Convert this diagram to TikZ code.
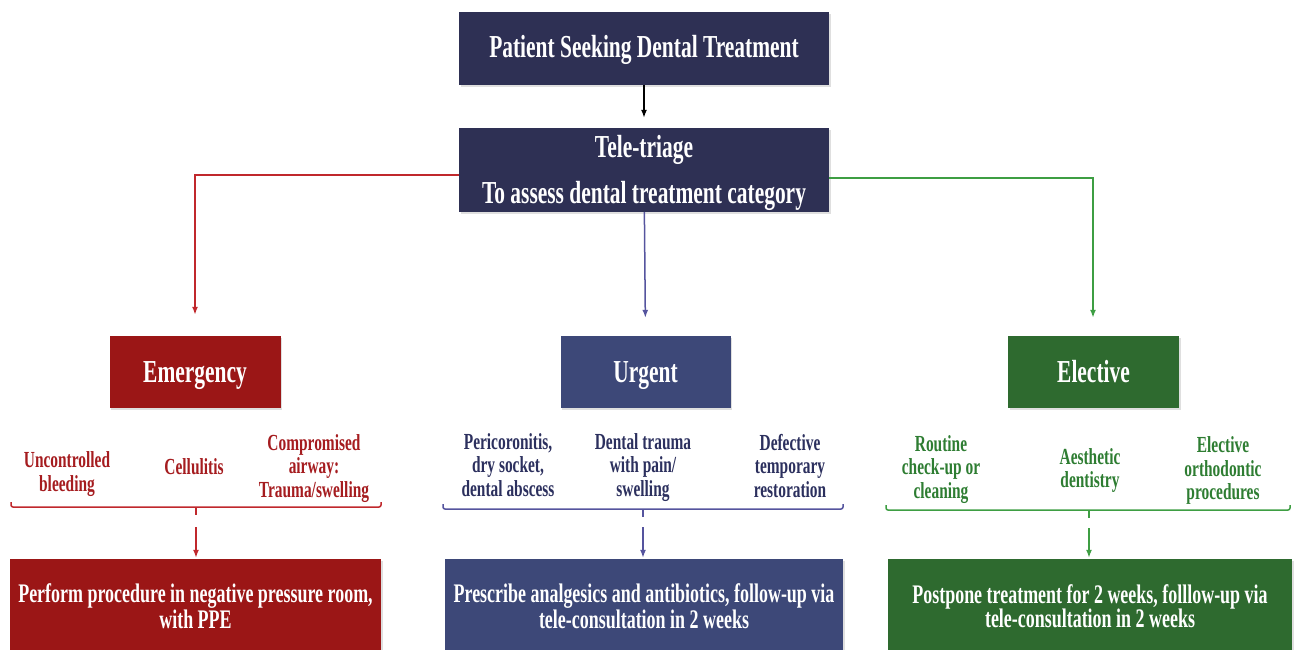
\documentclass[tikz,border=0pt]{standalone}
\usepackage{fontspec}
\setmainfont{Liberation Serif}[FakeStretch=0.67]
\usepackage{tikz}
\usetikzlibrary{arrows.meta,positioning,shadows}
\usepackage{xcolor}
\definecolor{navy}{HTML}{2E3054}
\definecolor{emred}{HTML}{9B1616}
\definecolor{urblue}{HTML}{3D4878}
\definecolor{elgreen}{HTML}{2E6A2F}
\definecolor{redtxt}{HTML}{A51C1F}
\definecolor{bluetxt}{HTML}{2C305E}
\definecolor{greentxt}{HTML}{2E7D32}
\definecolor{redln}{HTML}{C0282C}
\definecolor{blueln}{HTML}{55549E}
\definecolor{greenln}{HTML}{3E9E43}

\begin{document}
\begin{tikzpicture}[x=1pt,y=-1pt,
  box/.style={fill=#1,text=white,align=center,inner sep=0pt,
    drop shadow={shadow xshift=1.5pt,shadow yshift=-1.5pt,opacity=0.25},
    font=\fontsize{32}{38}\selectfont\bfseries},
  catbox/.style={box=#1,minimum width=171pt,minimum height=72pt,text height=22pt,text depth=2pt},
  actbox/.style={box=#1,font=\fontsize{26.8}{24.5}\selectfont\bfseries},
  item/.style={align=center,inner sep=0pt,font=\fontsize{23}{23.5}\selectfont\bfseries},
  flow/.style={line width=1.5pt,-{Latex[length=8pt,width=6pt]}}]
  \useasboundingbox (0,0) rectangle (1296,649);

  \node[box=navy,minimum width=370pt,minimum height=73pt,text height=22pt,text depth=5pt] (patient) at (644,48.5) {Patient Seeking Dental Treatment};
  \node[box=navy,minimum width=370pt,minimum height=84pt] (triage) at (644,170) {\rule{0pt}{28pt}Tele-triage\\[8pt]To assess dental treatment category};

  \node[catbox=emred] (emerg) at (195,372) {Emergency};
  \node[catbox=urblue,minimum width=170pt] (urgent) at (645.5,372) {Urgent};
  \node[catbox=elgreen] (elect) at (1093.5,372) {Elective};

  \draw[flow,black] (patient) -- (triage.north) [shorten >=10pt];
  \draw[flow,redln,line width=1.8pt,shorten >=21pt] ([yshift=-5pt]triage.west) -| (emerg.north);
  \draw[flow,blueln,shorten >=18pt] (triage) -- (urgent.north);
  \draw[flow,greenln,line width=1.8pt,shorten >=18pt] ([yshift=-8pt]triage.east) -| ([xshift=-0.5pt]elect.north);

  \foreach \x/\y/\t [count=\i] in {67/474/{Uncontrolled\\bleeding},194/467/{Cellulitis},314/468.5/{Compromised\\airway:\\Trauma/swelling}}
    \node[item,text=redtxt] (em\i) at (\x,\y) {\t};
  \foreach \x/\y/\t [count=\i] in {508/465/{Pericoronitis,\\dry socket,\\dental abscess},643/467.5/{Dental trauma\\with pain/\\swelling},790/466/{Defective\\temporary\\restoration}}
    \node[item,text=bluetxt] (ur\i) at (\x,\y) {\t};
  \foreach \x/\y/\t [count=\i] in {941/469.5/{Routine\\check-up or\\cleaning},1090/470.5/{Aesthetic\\dentistry},1223/470.5/{Elective\\orthodontic\\procedures}}
    \node[item,text=greentxt] (el\i) at (\x,\y) {\t};

  \foreach \l/\m/\r/\b/\c in {11/196/381/507/redln,443/643/843/509/blueln,886/1089/1290/510/greenln} {
    \draw[\c,line width=1.5pt,rounded corners=2pt] (\l,\b-5) -- (\l,\b) -- (\r,\b) -- (\r,\b-5);
    \draw[\c,line width=1.5pt] (\m,\b) -- (\m,\b+8);
  }
  \coordinate (embr) at (196,527);
  \coordinate (urbr) at (643,527);
  \coordinate (elbr) at (1089,528);

  \node[actbox=emred,minimum width=371pt,minimum height=94pt] (emact) at (195.5,606) {Perform procedure in negative pressure room,\\with PPE};
  \node[actbox=urblue,minimum width=398pt,minimum height=94pt] (uract) at (644,606) {Prescribe analgesics and antibiotics, follow-up via\\tele-consultation in 2 weeks};
  \node[actbox=elgreen,minimum width=404pt,minimum height=94pt] (elact) at (1090,606) {Postpone treatment for 2 weeks, folllow-up via\\tele-consultation in 2 weeks};

  \draw[flow,redln,shorten >=1pt] (embr) -- (embr |- emact.north);
  \draw[flow,blueln,shorten >=1pt] (urbr) -- (urbr |- uract.north);
  \draw[flow,greenln,shorten >=1pt] (elbr) -- (elbr |- elact.north);
\end{tikzpicture}
\end{document}
